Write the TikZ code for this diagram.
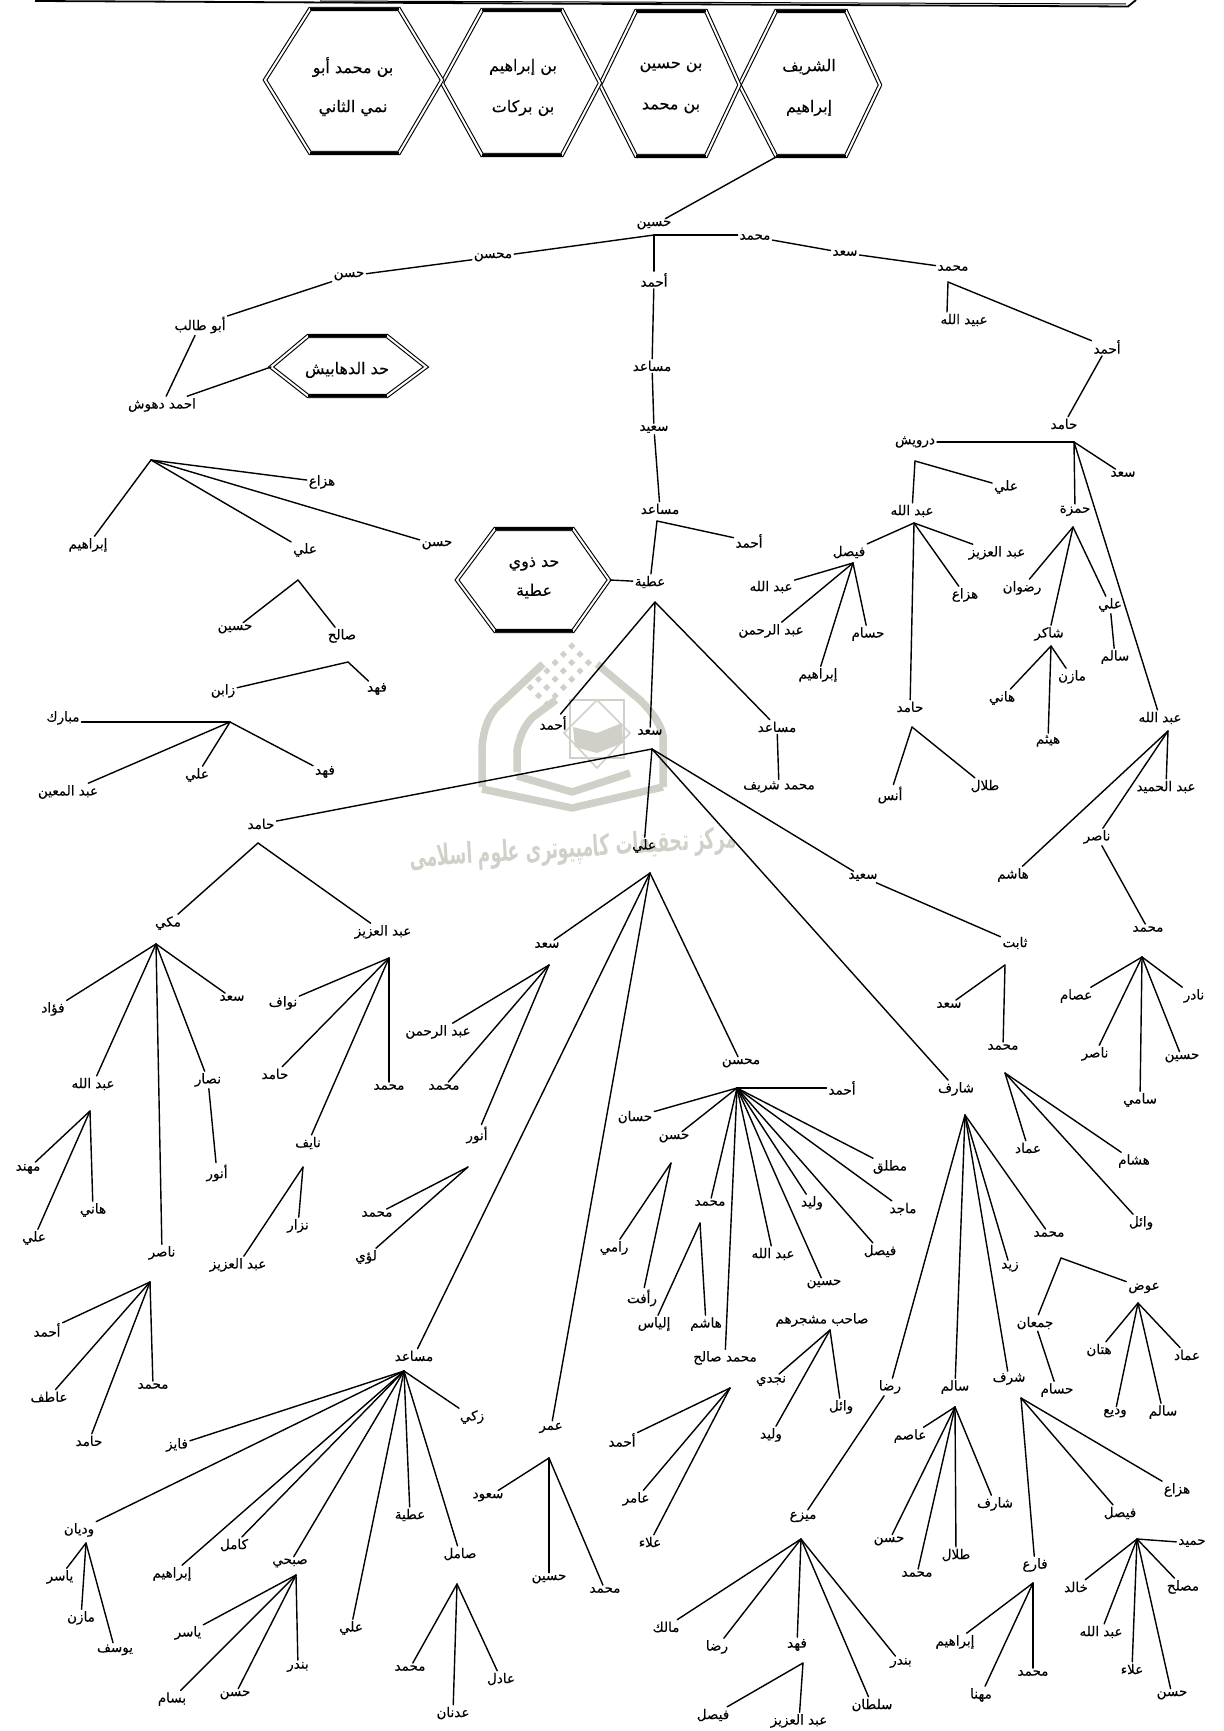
\documentclass[tikz,border=0pt]{standalone}
\usepackage{fontspec}
\TeXXeTstate=1
\newfontfamily\arfont[Script=Arabic,FakeBold=0.25]{DejaVu Sans}
\newfontfamily\arbold[Script=Arabic]{DejaVu Sans Bold}
\definecolor{wm}{HTML}{D0D0C8}
\tikzset{
 lbl/.style={font=\arfont\fontsize{13.5}{15}\selectfont,inner sep=0.5pt,outer sep=1.5pt,text=black},
 hxt/.style={font=\arfont\fontsize{16}{18}\selectfont,inner sep=1pt,text=black},
 cn/.style={line width=1.4pt,black,line cap=round,line join=miter},
 hexl/.style={draw=black,line width=1.1pt,double=white,double distance=2pt,line join=miter},
 hexb/.style={draw=black,line width=2.2pt},
 wmb/.style={draw=wm,line width=7.5pt,line join=round},
 wmt/.style={draw=wm,line width=1.6pt}
}
\newcommand\nd[4]{\node[lbl] (#1) at (#2,#3) {\beginR #4\endR};}
\newcommand\hn[4]{\node[hxt] (#1) at (#2,#3) {\beginR #4\endR};}
\newcommand\fan[4]{\coordinate (#1) at (#2,#3);\foreach \kk in {#4}{\draw[cn] (#1) -- (\kk);}}
\newcommand\hx[7]{\draw[hexl] (#1,#6)--(#2,#5)--(#3,#5)--(#4,#6)--(#3,#7)--(#2,#7)--cycle;
 \draw[hexb] (#2,#7)--(#3,#7);\draw[hexb] (#2,#5)--(#3,#5);}
\begin{document}
\begin{tikzpicture}[x=1pt,y=-1pt]
\useasboundingbox (0,0) rectangle (1223,1731);
% watermark
\draw[wmb] (482,787) -- (482,747) .. controls (484,725) and (490,715) .. (497,707) -- (543,664);
\draw[wmb] (597,664) -- (640,700) .. controls (650,710) and (660,722) .. (663,735) -- (663,787);
\draw[wmb] (482,789) -- (572,808) -- (663,787);
\draw[wmb] (517,772) -- (517,750) .. controls (520,735) and (525,725) .. (533,717) -- (556,700);
\draw[wmb] (517,776) -- (572,792) -- (630,773);
\draw[wmt] (570,700) rectangle (624,758);
\draw[wmt] (597,700) -- (630,733) -- (597,768) -- (564,733) -- cycle;
\fill[wm] (573,727) -- (597,733) -- (622,723) -- (623,743) -- (597,753) -- (575,747) -- cycle;
\foreach \jj in {0,...,5}{\foreach \ii in {0,1,2}{
 \fill[wm] ({571.7+(\ii-\jj)*8.3},{646+(\ii+\jj)*8.3}) ++(0,-3.6) -- ++(3.6,3.6) -- ++(-3.6,3.6) -- ++(-3.6,-3.6) -- cycle;}}
\node[font=\arbold\fontsize{17}{20}\selectfont,text=wm,rotate=3.5,inner sep=0pt] (wmtext) at (573,850) {\scalebox{1}[1.7]{\beginR مرکز تحقیقات کامپیوتری علوم اسلامی\endR}};
% top frame
\draw[line width=1.8pt] (35,1) -- (1128,6.5) -- (1136,0);
\draw[line width=1pt] (320,1) -- (1126,4);
% hexagons
\hx{739.5}{776}{846}{880}{11}{85}{156}
\hx{600}{636}{706}{739.5}{11}{85}{156}
\hx{442}{482}{562}{600}{10}{83}{155}
\hx{265}{310}{399}{442}{9}{80}{153}
\hx{271}{308}{387}{426}{336}{367}{396}
\hx{457}{495}{573}{609}{529}{580}{631}
\coordinate (hoa) at (776,157);
\coordinate (hda) at (271,367);
\coordinate (hat) at (610,580);
\hn{h1a}{809}{67}{الشريف}\hn{h1b}{809}{108}{إبراهيم}
\hn{h2a}{671}{67}{\beginR بن حسين\endR}\hn{h2b}{671}{108}{\beginR بن محمد\endR}
\hn{h3a}{523}{67}{\beginR بن إبراهيم\endR}\hn{h3b}{523}{108}{\beginR بن بركات\endR}
\hn{h4a}{353}{67}{\beginR بن محمد أبو\endR}\hn{h4b}{353}{108}{\beginR نمي الثاني\endR}
\hn{hdt}{347}{370}{\beginR حد الدهابيش\endR}
\hn{hata}{534}{564}{\beginR حد ذوي\endR}\hn{hatb}{534}{591}{عطية}
% upper trunk
\nd{husn}{654}{225}{حسين}
\nd{muh1}{755}{237}{محمد}\nd{saad1}{845}{253}{سعد}\nd{muh2}{953}{268}{محمد}
\nd{muhs1}{493}{257}{محسن}\nd{has1}{349}{276}{حسن}\nd{abut}{200}{325}{\beginR أبو طالب\endR}\nd{ahdah}{162}{405}{\beginR احمد دهوش\endR}
\nd{ahm1}{654}{280}{أحمد}\nd{mus1}{652}{366}{مساعد}\nd{said1}{654}{429}{سعيد}\nd{mus2}{660}{509}{مساعد}
\nd{atiy}{650}{582}{عطية}\nd{ahm3}{749}{541}{أحمد}
\nd{ahm4}{553}{723}{أحمد}\nd{saad5}{650}{732}{سعد}\nd{mus3}{777}{727}{مساعد}\nd{mshar}{779}{787}{\beginR محمد شريف\endR}
\nd{ali5}{644}{846}{علي}\nd{ham1}{261}{824}{حامد}\nd{said2}{863}{877}{سعيد}\nd{shar1}{956}{1089}{شارف}
\nd{thab}{1015}{943}{ثابت}\nd{saad6}{949}{1005}{سعد}\nd{muh6}{1003}{1047}{محمد}
\nd{imad}{1028}{1148}{عماد}\nd{hish}{1134}{1161}{هشام}\nd{wail}{1141}{1223}{وائل}
\nd{muh7}{1049}{1234}{محمد}\nd{zayd}{1010}{1267}{زيد}\nd{rida}{890}{1387}{رضا}\nd{salim}{955}{1387}{سالم}\nd{sharaf}{1009}{1379}{شرف}
\nd{awad}{1144}{1288}{عوض}\nd{juman}{1035}{1323}{جمعان}\nd{hsam}{1057}{1390}{حسام}
\nd{hatt}{1099}{1350}{هتان}\nd{imad2}{1187}{1355}{عماد}\nd{wadi}{1115}{1413}{وديع}\nd{sal2}{1163}{1412}{سالم}
\nd{hazz}{1177}{1490}{هزاع}\nd{fays1}{1120}{1513}{فيصل}\nd{fari}{1035}{1565}{فارع}
\nd{asim}{910}{1436}{عاصم}\nd{has2}{889}{1541}{حسن}\nd{muh8}{917}{1574}{محمد}\nd{talal}{956}{1555}{طلال}\nd{shar2}{995}{1504}{شارف}
\nd{mayz}{803}{1517}{ميزع}\nd{malk}{666}{1627}{مالك}\nd{rid2}{717}{1647}{رضا}\nd{fahd1}{797}{1645}{فهد}\nd{sult}{872}{1705}{سلطان}\nd{band1}{901}{1663}{بندر}
\nd{fays2}{713}{1715}{فيصل}\nd{aziz1}{799}{1721}{\beginR عبد العزيز\endR}
\nd{ibr1}{955}{1642}{إبراهيم}\nd{muh9}{1033}{1673}{محمد}\nd{mahn}{981}{1695}{مهنا}
\nd{hamd}{1192}{1543}{حميد}\nd{khal}{1076}{1587}{خالد}\nd{musl}{1183}{1587}{مصلح}\nd{abd1}{1101}{1632}{\beginR عبد الله\endR}\nd{alaa1}{1132}{1669}{علاء}\nd{has3}{1172}{1695}{حسن}
% right upper branch
\nd{ubay}{964}{320}{\beginR عبيد الله\endR}\nd{ahm5}{1107}{347}{أحمد}\nd{ham2}{1064}{424}{حامد}
\nd{darw}{915}{442}{درويش}\nd{saad7}{1123}{474}{سعد}\nd{hamz}{1075}{511}{حمزة}\nd{abd2}{1160}{718}{\beginR عبد الله\endR}
\nd{ali6}{1006}{487}{علي}\nd{abd3}{912}{511}{\beginR عبد الله\endR}
\nd{fays3}{849}{552}{فيصل}\nd{aziz2}{997}{553}{\beginR عبد العزيز\endR}\nd{hazz2}{965}{595}{هزاع}\nd{ham3}{910}{707}{حامد}
\nd{abd4}{771}{587}{\beginR عبد الله\endR}\nd{rahm1}{771}{631}{\beginR عبد الرحمن\endR}\nd{hsam2}{868}{634}{حسام}\nd{ibr2}{818}{675}{إبراهيم}
\nd{ridw}{1022}{588}{رضوان}\nd{ali7}{1110}{605}{علي}\nd{shak}{1049}{634}{شاكر}\nd{sal3}{1115}{657}{سالم}
\nd{hani1}{1002}{698}{هاني}\nd{mazn}{1072}{677}{مازن}\nd{haytham}{1048}{741}{هيثم}
\nd{anas}{890}{795}{أنس}\nd{tal2}{985}{786}{طلال}
\nd{hmid}{1166}{787}{\beginR عبد الحميد\endR}\nd{nas1}{1097}{837}{ناصر}\nd{hash1}{1013}{875}{هاشم}\nd{muh10}{1148}{929}{محمد}
\nd{isam}{1076}{996}{عصام}\nd{nadr}{1194}{996}{نادر}\nd{nas2}{1095}{1054}{ناصر}\nd{hus2}{1182}{1058}{حسين}\nd{sami}{1140}{1100}{سامي}
% middle and left of lower half
\nd{saad8}{547}{945}{سعد}\nd{muhs2}{741}{1063}{محسن}\nd{mus4}{414}{1356}{مساعد}\nd{umar}{551}{1428}{عمر}
\nd{makk}{168}{923}{مكي}\nd{aziz3}{383}{932}{\beginR عبد العزيز\endR}
\nd{fuad}{53}{1009}{فؤاد}\nd{saad9}{232}{998}{سعد}\nd{abd5}{93}{1084}{\beginR عبد الله\endR}\nd{nass}{208}{1080}{نصار}\nd{nas3}{162}{1253}{ناصر}\nd{anw1}{217}{1173}{أنور}
\nd{muhn}{28}{1169}{مهند}\nd{hani2}{93}{1210}{هاني}\nd{ali8}{34}{1238}{علي}
\nd{ahm6}{47}{1330}{أحمد}\nd{atif}{49}{1397}{عاطف}\nd{ham4}{89}{1441}{حامد}\nd{muh11}{153}{1386}{محمد}
\nd{nawf}{283}{1003}{نواف}\nd{ham5}{275}{1074}{حامد}\nd{muh12}{389}{1087}{محمد}\nd{nayf}{308}{1143}{نايف}
\nd{nizr}{298}{1226}{نزار}\nd{aziz4}{238}{1265}{\beginR عبد العزيز\endR}
\nd{rahm2}{438}{1032}{\beginR عبد الرحمن\endR}\nd{muh13}{444}{1087}{محمد}\nd{anw2}{477}{1135}{أنور}\nd{muh14}{377}{1214}{محمد}\nd{luay}{366}{1257}{لؤي}
% muhsin group
\nd{ahm7}{842}{1088}{أحمد}\nd{hasn}{635}{1117}{حسان}\nd{has4}{674}{1138}{حسن}\nd{muh15}{710}{1203}{محمد}\nd{msal}{725}{1358}{\beginR محمد صالح\endR}
\nd{abd6}{773}{1254}{\beginR عبد الله\endR}\nd{hus3}{824}{1284}{حسين}\nd{fays4}{880}{1251}{فيصل}\nd{wal1}{812}{1203}{وليد}\nd{majd}{903}{1209}{ماجد}\nd{mutl}{890}{1167}{مطلق}
\nd{rami}{614}{1248}{رامي}\nd{raft}{642}{1298}{رأفت}\nd{ilys}{654}{1324}{إلياس}\nd{hash2}{706}{1324}{هاشم}
\nd{ahm8}{622}{1440}{أحمد}\nd{amir}{636}{1499}{عامر}\nd{alaa2}{650}{1542}{علاء}
\nd{sahb}{822}{1320}{\beginR صاحب مشجرهم\endR}\nd{najd}{771}{1381}{نجدي}\nd{wal2}{771}{1435}{وليد}\nd{wail2}{841}{1407}{وائل}
% musaid group
\nd{zaki}{472}{1417}{زكي}\nd{fayz}{177}{1445}{فايز}\nd{wady}{79}{1530}{وديان}\nd{kaml}{234}{1545}{كامل}\nd{ibr3}{172}{1574}{إبراهيم}\nd{subh}{290}{1563}{صبحي}\nd{ali9}{351}{1628}{علي}\nd{ati2}{410}{1515}{عطية}\nd{saml}{460}{1554}{صامل}
\nd{yas1}{60}{1577}{ياسر}\nd{maz2}{81}{1618}{مازن}\nd{yusf}{115}{1650}{يوسف}
\nd{yas2}{188}{1633}{ياسر}\nd{band2}{298}{1667}{بندر}\nd{has5}{235}{1695}{حسن}\nd{bass}{172}{1699}{بسام}
\nd{muh16}{410}{1668}{محمد}\nd{adil}{501}{1679}{عادل}\nd{adnn}{453}{1713}{عدنان}
\nd{saud}{488}{1497}{سعود}\nd{hus4}{549}{1579}{حسين}\nd{muh17}{605}{1590}{محمد}
% detached left group
\nd{hazz3}{322}{482}{هزاع}\nd{has6}{437}{545}{حسن}\nd{ali10}{305}{550}{علي}\nd{ibr4}{88}{545}{إبراهيم}
\nd{hus5}{235}{629}{حسين}\nd{salh}{342}{636}{صالح}\nd{zabn}{223}{691}{زابن}\nd{fah2}{377}{689}{فهد}
\nd{mubk}{63}{718}{مبارك}\nd{muin}{68}{792}{\beginR عبد المعين\endR}\nd{ali11}{197}{775}{علي}\nd{fah3}{325}{772}{فهد}
% connectors
\draw[cn] (hoa) -- (husn);
\draw[cn] (hda) -- (ahdah);
\draw[cn] (hat) -- (atiy);
\draw[cn] (muh1) -- (saad1);\draw[cn] (saad1) -- (muh2);
\draw[cn] (muhs1) -- (has1);\draw[cn] (has1) -- (abut);\draw[cn] (abut) -- (ahdah);
\draw[cn] (ahm1) -- (mus1);\draw[cn] (mus1) -- (said1);\draw[cn] (said1) -- (mus2);
\draw[cn] (mus3) -- (mshar);\draw[cn] (said2) -- (thab);
\draw[cn] (juman) -- (hsam);\draw[cn] (mayz) -- (rida);
\draw[cn] (ahm5) -- (ham2);\draw[cn] (ali7) -- (sal3);\draw[cn] (nas1) -- (muh10);
\draw[cn] (nass) -- (anw1);
\fan{a0}{654}{235}{muhs1,ahm1}
\draw[cn] (a0) -- (a0 -| muh1.west);
\fan{a1}{657}{521}{atiy,ahm3}
\fan{a2}{655}{602}{ahm4,saad5,mus3}
\fan{a3}{652}{749}{ali5,ham1,said2,shar1}
\fan{a4}{1005}{965}{saad6,muh6}
\fan{a5}{1005}{1073}{imad,hish,wail}
\fan{a6}{965}{1115}{muh7,zayd,rida,salim,sharaf}
\fan{a7}{1061}{1258}{awad,juman}
\fan{a8}{1138}{1303}{hatt,imad2,wadi,sal2}
\fan{a9}{1021}{1398}{hazz,fays1,fari}
\fan{a10}{955}{1407}{asim,has2,muh8,talal,shar2}
\fan{a11}{801}{1539}{malk,rid2,fahd1,sult,band1}
\fan{a12}{803}{1663}{fays2,aziz1}
\fan{a13}{1033}{1583}{ibr1,muh9,mahn}
\fan{a14}{1137}{1539}{hamd,khal,musl,abd1,alaa1,has3}
\fan{a15}{948}{282}{ahm5}
\draw[cn] (a15) -- ([xshift=-17pt]ubay.north);
\fan{a16}{1074}{442}{darw,saad7,hamz,abd2}
\fan{a17}{915}{461}{ali6,abd3}
\fan{a18}{914}{523}{fays3,aziz2,hazz2,ham3}
\fan{a19}{853}{563}{abd4,rahm1,hsam2,ibr2}
\fan{a20}{1073}{527}{ridw,ali7,shak}
\fan{a21}{1051}{646}{hani1,mazn,haytham}
\fan{a22}{912}{727}{anas,tal2}
\fan{a23}{1168}{731}{hmid,nas1,hash1}
\fan{a24}{1142}{957}{isam,nadr,nas2,hus2,sami}
\fan{a25}{650}{873}{saad8,muhs2,mus4,umar}
\fan{a26}{258}{843}{makk,aziz3}
\fan{a27}{156}{944}{fuad,saad9,abd5,nass,nas3}
\fan{a28}{90}{1111}{muhn,hani2,ali8}
\fan{a29}{150}{1282}{ahm6,atif,ham4,muh11}
\fan{a30}{389}{958}{nawf,ham5,muh12,nayf}
\fan{a31}{303}{1167}{nizr,aziz4}
\fan{a32}{549}{965}{rahm2,muh13,anw2}
\fan{a33}{468}{1167}{muh14,luay}
\fan{a34}{737}{1088}{ahm7,hasn,has4,muh15,msal,abd6,hus3,fays4,wal1,majd,mutl}
\fan{a35}{671}{1163}{rami,raft}
\fan{a36}{700}{1223}{ilys,hash2}
\fan{a37}{730}{1388}{ahm8,amir,alaa2}
\fan{a38}{830}{1330}{najd,wal2,wail2}
\fan{a39}{404}{1371}{zaki,fayz,wady,kaml,ibr3,subh,ali9,ati2,saml}
\fan{a40}{86}{1543}{yas1,maz2,yusf}
\fan{a41}{296}{1575}{yas2,band2,has5,bass}
\fan{a42}{457}{1584}{muh16,adil,adnn}
\fan{a43}{549}{1458}{saud,hus4,muh17}
\fan{a44}{151}{460}{hazz3,has6,ali10,ibr4}
\fan{a45}{298}{580}{hus5,salh}
\fan{a46}{348}{662}{zabn,fah2}
\fan{a47}{230}{722}{muin,ali11,fah3}
\draw[cn] (a47) -- (a47 -| mubk.east);
\end{tikzpicture}
\end{document}
